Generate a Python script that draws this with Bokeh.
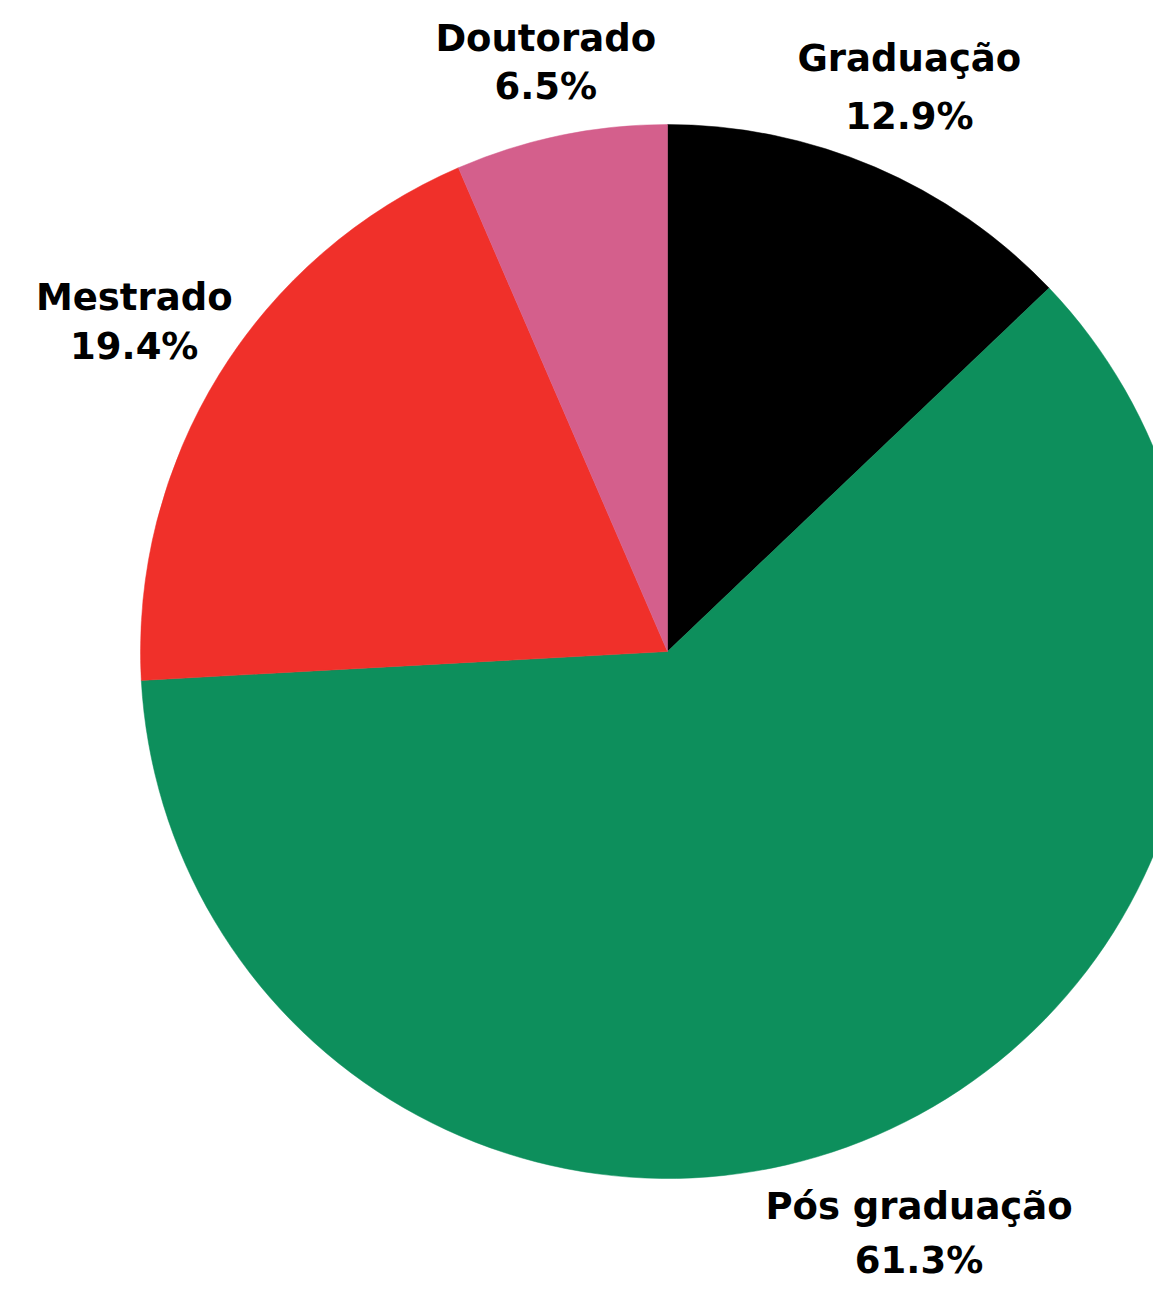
import math
from bokeh.plotting import figure
from bokeh.models import Range1d, ColumnDataSource
from bokeh.core.properties import value
from bokeh.embed import file_html
from bokeh.resources import INLINE

# ---- data ----
categories = ["Graduação", "Pós graduação", "Mestrado", "Doutorado"]
percents = [12.9, 61.3, 19.4, 6.5]
colors = ["#000000", "#0d8f5c", "#f0302a", "#d45f8c"]

# ---- layout (pixel-like coordinates) ----
W, H = 1153, 1286
cx, cy = 667, -651
R = 527
label_r = [614, 634, 627, 601]
line_gap = [58, 54, 49, 48]

p = figure(width=W, height=H, output_backend="svg", toolbar_location=None,
           x_range=Range1d(0, W), y_range=Range1d(-H, 0),
           min_border=0)
p.axis.visible = False
p.grid.visible = False
p.outline_line_color = None
p.background_fill_color = "white"

total = sum(percents)
starts, ends, mids = [], [], []
a = math.pi / 2
for v in percents:
    span = v / total * 2 * math.pi
    starts.append(a)
    ends.append(a - span)
    mids.append(a - span / 2)
    a -= span

src = ColumnDataSource(dict(start=starts, end=ends, color=colors))
p.wedge(x=cx, y=cy, radius=R, start_angle="start", end_angle="end",
        direction="clock", fill_color="color", line_color="color",
        line_width=0.5, source=src)

nx, ny, px, py = [], [], [], []
for m, r, g in zip(mids, label_r, line_gap):
    lx = cx + r * math.cos(m)
    ly = cy + r * math.sin(m)
    nx.append(lx); ny.append(ly + g / 2)
    px.append(lx); py.append(ly - g / 2)

pct_labels = [f"{v:.1f}%" for v in percents]
font = value("DejaVu Sans")
p.text(x=nx, y=ny, text=categories, text_font=font,
       text_font_style="bold", text_font_size="37px", text_align="center",
       text_baseline="middle", text_color="#000000")
p.text(x=px, y=py, text=pct_labels, text_font=font,
       text_font_style="bold", text_font_size="37px", text_align="center",
       text_baseline="middle", text_color="#000000")

open("out.html", "w").write(file_html(p, INLINE))
